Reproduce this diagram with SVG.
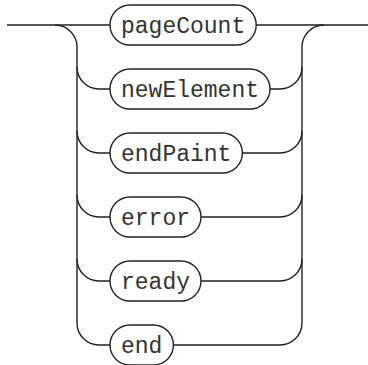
<svg xmlns="http://www.w3.org/2000/svg" width="368" height="365" viewBox="0 0 368 365">
<style>
.c{fill:none;stroke:#222;stroke-width:1.4}
.b{fill:#fff;stroke:#222;stroke-width:1.4}
.t{font-family:"Liberation Mono","Courier New",monospace;font-size:23px;fill:#333;text-anchor:middle}
</style>
<rect width="368" height="365" fill="#fff"/>
<g id="connectors" class="c">
<path d="M7 25H110"/>
<path d="M256.2 25H368"/>
<path d="M55 25A22 22 0 0 1 77 47V323"/>
<path d="M324 25A22 22 0 0 0 302 47V323"/>
<path d="M77 67A22 22 0 0 0 99 89H110M270 89H280A22 22 0 0 0 302 67"/>
<path d="M77 131A22 22 0 0 0 99 153H110M242.4 153H280A22 22 0 0 0 302 131"/>
<path d="M77 195A22 22 0 0 0 99 217H110M201 217H280A22 22 0 0 0 302 195"/>
<path d="M77 259A22 22 0 0 0 99 281H110M201 281H280A22 22 0 0 0 302 259"/>
<path d="M77 323A22 22 0 0 0 99 345H110M173.4 345H280A22 22 0 0 0 302 323"/>
</g>
<g id="pageCount"><rect class="b" x="110" y="5" width="146.2" height="40" rx="20"/><text class="t" x="183.1" y="33">pageCount</text></g>
<g id="newElement"><rect class="b" x="110" y="69" width="160" height="40" rx="20"/><text class="t" x="190" y="97">newElement</text></g>
<g id="endPaint"><rect class="b" x="110" y="133" width="132.4" height="40" rx="20"/><text class="t" x="176.2" y="161">endPaint</text></g>
<g id="error"><rect class="b" x="110" y="197" width="91" height="40" rx="20"/><text class="t" x="155.5" y="225">error</text></g>
<g id="ready"><rect class="b" x="110" y="261" width="91" height="40" rx="20"/><text class="t" x="155.5" y="289">ready</text></g>
<g id="end"><rect class="b" x="110" y="325" width="63.4" height="40" rx="20"/><text class="t" x="141.7" y="353">end</text></g>
</svg>
